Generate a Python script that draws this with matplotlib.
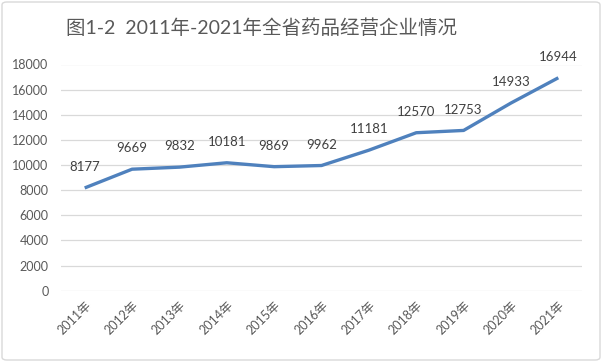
import matplotlib
matplotlib.use("Agg")
import matplotlib.pyplot as plt
from matplotlib.patches import FancyBboxPatch

years = ["2011年", "2012年", "2013年", "2014年", "2015年", "2016年",
         "2017年", "2018年", "2019年", "2020年", "2021年"]
values = [8177, 9669, 9832, 10181, 9869, 9962, 11181, 12570, 12753, 14933, 16944]
yticks = [0, 2000, 4000, 6000, 8000, 10000, 12000, 14000, 16000, 18000]
title = "图1-2  2011年-2021年全省药品经营企业情况"

plt.rcParams['font.family'] = ['Lato', 'Noto Sans CJK SC', 'DejaVu Sans']

fig = plt.figure(figsize=(6.02, 3.62), dpi=100)
fig.patch.set_facecolor("white")
ax = fig.add_axes([61/602, 1-290.7/362, 521/602, (290.7-64.5)/362])

x = list(range(len(years)))
ax.plot(x, values, color="#4F81BD", lw=2.4, solid_capstyle="butt", zorder=3)
for xi, v in zip(x, values):
    ax.annotate(str(v), (xi, v), xytext=(0, 15), textcoords="offset points",
                ha="center", va="center", fontsize=9.5, color="#404040")

ax.set_xlim(-0.5, len(years) - 0.5)
ax.set_ylim(0, 18000)
ax.set_yticks(yticks)
ax.set_yticklabels([str(t) for t in yticks])
ax.set_xticks(x)
ax.set_xticklabels(years, rotation=45, ha="right", va="top", rotation_mode="anchor")
ax.tick_params(axis="both", length=0, labelsize=9, labelcolor="#595959")
ax.tick_params(axis="y", pad=9)
ax.tick_params(axis="x", pad=6)
ax.grid(axis="y", color="#D9D9D9", lw=0.9)
ax.set_axisbelow(True)
for s in ax.spines.values():
    s.set_visible(False)

fig.text(261/602, 1-28/362, title, ha="center", va="center", fontsize=14, color="#595959")

border = FancyBboxPatch((2/602, 2/362), 598/602, 358/362,
                        boxstyle="round,pad=0,rounding_size=0.008",
                        transform=fig.transFigure, fill=False,
                        edgecolor="#D9D9D9", lw=1.0)
fig.patches.append(border)

fig.savefig("out.png", dpi=100)
